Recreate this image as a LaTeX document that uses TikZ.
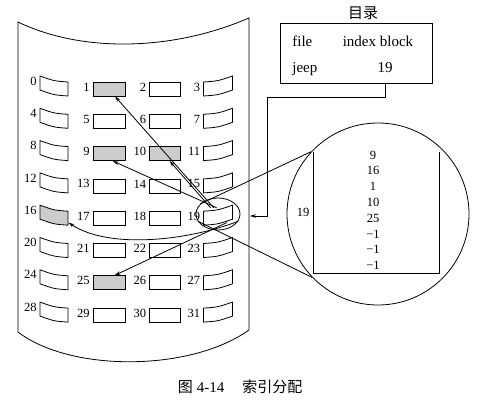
\documentclass[tikz,border=0pt]{standalone}
\usepackage{fontspec}
\setmainfont{Liberation Serif}
\newfontfamily\cjk{Noto Sans CJK SC}
\usetikzlibrary{arrows.meta,calc,shapes.geometric}

\tikzset{
    >={Stealth[length=6pt,width=3.5pt]},
    numlbl/.style={inner sep=0pt, font=\fontsize{12.5}{14}\selectfont},
    dirtext/.style={inner sep=0pt, font=\fontsize{15}{17}\selectfont},
    blockslot/.style={inner sep=0pt, minimum height=14pt},
}

\begin{document}
\begin{tikzpicture}[x=1pt, y=-1pt, line width=0.8pt]
    \useasboundingbox (0,0) rectangle (479,412);

    % Draw the disk surface
    \draw (18,22) .. controls (80,52) and (170,52) .. (249,18) -- (249,330)
        .. controls (190,372) and (70,372) .. (18,332) -- cycle;

    % Draw the 32 blocks with their numbers
    \foreach \r in {0,...,7}
      \foreach \c/\x/\s/\g/\w in {0/54/3/2/14, 1/109/0/0/16, 2/165/0/0/15.5, 3/218/-3/2/14.5} {
        \pgfmathtruncatemacro\n{4*\r+\c}
        \pgfmathsetmacro\y{89+32.3*\r-abs(\s)}
        \pgfmathsetmacro\xl{\x-\w}
        \pgfmathsetmacro\xr{\x+\w}
        \pgfmathsetmacro\yla{\y-\s-7}
        \pgfmathsetmacro\ylb{\y-\s+7}
        \pgfmathsetmacro\yra{\y+\s-7}
        \pgfmathsetmacro\yrb{\y+\s+7}
        \pgfmathsetmacro\yca{\y-7+\g}
        \pgfmathsetmacro\ycb{\y+7+\g}
        \pgfmathsetmacro\lx{\x-\w-3}
        \pgfmathsetmacro\ly{\y-\s-2}
        \pgfmathtruncatemacro\sh{(\n==1)||(\n==9)||(\n==10)||(\n==16)||(\n==25)}
        \ifnum\sh=1 \def\fc{gray!40}\else\def\fc{white}\fi
        \node[blockslot, minimum width=2*\w] (b\n) at (\x,\y) {};
        \filldraw[fill=\fc] (\xl,\yla) .. controls (\x,\yca) .. (\xr,\yra)
            -- (\xr,\yrb) .. controls (\x,\ycb) .. (\xl,\ylb) -- cycle;
        \node[numlbl, anchor=east] (l\n) at (\lx,\ly) {\n};
      }

    % Draw the directory
    \node[dirtext] (title) at (363,13) {\cjk 目录};
    \node[draw, minimum width=152, minimum height=60, inner sep=0] (dir) at (356,53) {};
    \node[dirtext, anchor=base west] (file) at (292,47) {file};
    \node[dirtext, anchor=base] (ib) at (378,47) {index block};
    \node[dirtext, anchor=base west] (jeep) at (292,72) {jeep};
    \node[dirtext, anchor=base] (ent) at (385,72) {19};

    % Directory entry points to block 19
    \coordinate (entry) at (250,216);
    \draw[->] ($(dir.south)+(29,0)$) -- ++(0,14) -| ($(entry)+(17,0)$) -- (entry);

    % Draw the magnified index block
    \node[draw, ellipse, minimum width=44, minimum height=32, inner sep=0] (lens) at (218,214) {};
    \node[draw, circle, minimum size=182, inner sep=0] (mag) at (378,214) {};
    \draw (lens.150) -- (mag.137);
    \draw (lens.200) -- (mag.224);
    \draw (313,152) |- (439,273) -- (439,152);
    \node[numlbl] (idx) at (303,212) {19};
    \foreach \v [count=\k from 0] in {9,16,1,10,25,−1,−1,−1}
        \node[numlbl] (p\k) at (373,155+15.8*\k) {\v};

    % Draw the pointers of the index block
    \draw[->] (b19.120) -- (b1.-51);
    \draw[->] (b19.135) -- (b10.-58);
    \draw[->] (b19.100) -- (b9.-63);
    \draw[->] (b19.-40) -- (b25.53);
    \draw[->] (lens.-20) .. controls (190,240) and (110,250) .. (b16.south east);

    % Caption
    \node[font=\fontsize{15}{17}\selectfont] (cap) at (240,387)
        {{\cjk 图}\hspace{4pt}4-14\hspace{18pt}{\cjk 索引分配}};
\end{tikzpicture}
\end{document}
